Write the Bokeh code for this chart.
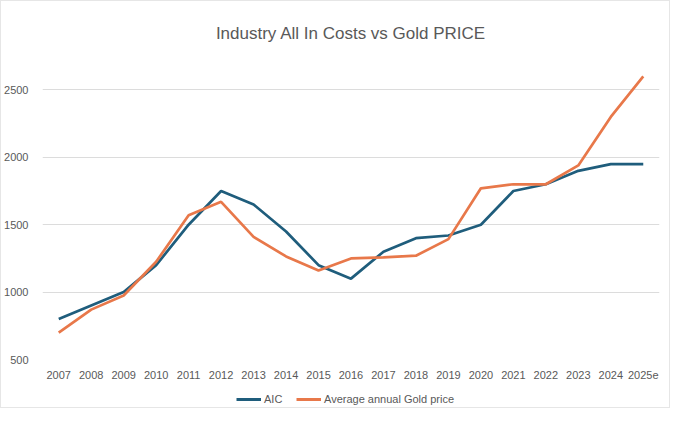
from bokeh.plotting import figure
from bokeh.models import FactorRange, Range1d, FixedTicker, Legend
from bokeh.layouts import column
from bokeh.embed import file_html
from bokeh.resources import INLINE

years = ["2007", "2008", "2009", "2010", "2011", "2012", "2013", "2014", "2015", "2016",
         "2017", "2018", "2019", "2020", "2021", "2022", "2023", "2024", "2025e"]
aic = [800, 900, 1000, 1200, 1500, 1750, 1650, 1450, 1200, 1100,
       1300, 1400, 1420, 1500, 1750, 1800, 1900, 1950, 1950]
gold = [700, 870, 975, 1225, 1570, 1670, 1410, 1265, 1160, 1250,
        1257, 1270, 1393, 1770, 1800, 1800, 1940, 2300, 2600]
y_ticks = [500, 1000, 1500, 2000, 2500]
series_names = ["AIC", "Average annual Gold price"]

FONT = "Liberation Sans"
GREY = "#595959"
BLUE = "#1F5D7C"
ORANGE = "#E8784A"

p = figure(frame_width=617, frame_height=310, output_backend="svg", toolbar_location=None,
           x_range=FactorRange(*years, range_padding=0), y_range=Range1d(500, 2800),
           title="Industry All In Costs vs Gold PRICE",
           min_border_left=37, min_border_right=10, min_border_top=48, min_border_bottom=24)

p.title.align = "center"
p.title.vertical_align = "top"
p.title.text_font = FONT
p.title.text_font_size = "17px"
p.title.text_font_style = "normal"
p.title.text_color = GREY
p.title.offset = 0
p.title.standoff = 10

p.line(years, aic, line_color=BLUE, line_width=2.7)
p.line(years, gold, line_color=ORANGE, line_width=2.7)

p.outline_line_color = None
p.xgrid.grid_line_color = None
p.ygrid.grid_line_color = "#DCDCDC"
p.ygrid.grid_line_width = 1
p.yaxis.ticker = FixedTicker(ticks=y_ticks)

for ax in (p.xaxis, p.yaxis):
    ax.axis_line_color = None
    ax.major_tick_line_color = None
    ax.minor_tick_line_color = None
    ax.major_label_text_font = FONT
    ax.major_label_text_font_size = "11px"
    ax.major_label_text_color = GREY
p.yaxis.major_label_standoff = 8
p.xaxis.major_label_standoff = 5

# legend strip below the chart (keys carry no visible data)
lg = figure(width=664, height=24, output_backend="svg", toolbar_location=None,
            x_range=Range1d(0, 1), y_range=Range1d(0, 1),
            min_border_left=0, min_border_right=0, min_border_top=0, min_border_bottom=0)
lg.axis.visible = False
lg.grid.visible = False
lg.outline_line_color = None
k1 = lg.line([0.5], [float("nan")], line_color=BLUE, line_width=3)
k2 = lg.line([0.5], [float("nan")], line_color=ORANGE, line_width=3)
legend = Legend(items=[(series_names[0], [k1]), (series_names[1], [k2])],
                orientation="horizontal", location=(194, 2),
                label_text_font=FONT, label_text_font_size="11px", label_text_color=GREY,
                glyph_width=25, glyph_height=12, spacing=12, border_line_color=None,
                background_fill_alpha=0, margin=0, padding=4, label_standoff=3)
lg.add_layout(legend)

page = column(p, lg, spacing=0, styles={"border": "1px solid #E6E6E6"})

open("out.html", "w").write(file_html(page, INLINE))
